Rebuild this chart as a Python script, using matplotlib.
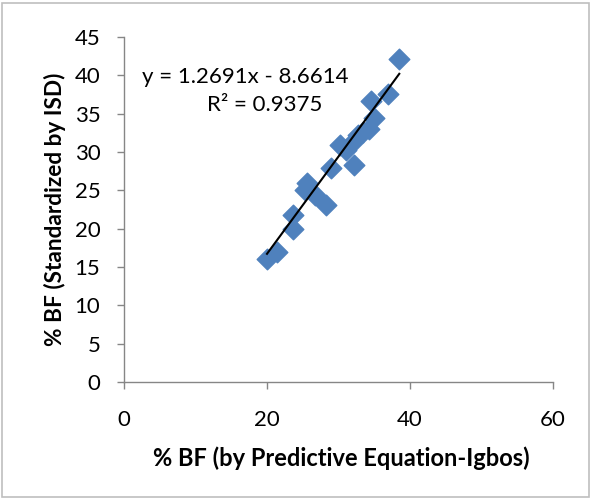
import matplotlib
matplotlib.use("Agg")
import matplotlib.pyplot as plt
import numpy as np
from matplotlib.patches import Rectangle

x_vals = [38.5, 36.9, 34.5, 34.9, 34.2, 32.7, 33.4, 32.0, 30.2, 31.1, 32.1, 28.9,
          25.6, 25.3, 26.7, 28.3, 23.6, 23.6, 21.4, 20.0]
y_vals = [42.1, 37.6, 36.6, 34.4, 33.0, 32.2, 32.6, 31.3, 30.9, 30.3, 28.3, 27.9,
          25.9, 25.0, 24.4, 23.1, 21.8, 20.0, 17.0, 16.1]
slope, intercept = 1.2691, -8.6614
x_ticks = [0, 20, 40, 60]
y_ticks = [0, 5, 10, 15, 20, 25, 30, 35, 40, 45]

plt.rcParams['font.family'] = ['Lato', 'DejaVu Sans']

fig = plt.figure(figsize=(5.91, 4.99), dpi=100)
fig.patches.append(Rectangle((0.004, 0.004), 0.992, 0.99, transform=fig.transFigure,
                             fill=False, edgecolor='#bfbfbf', linewidth=1.2))
ax = fig.add_axes([124/591, 1-382/499, (553-124)/591, (382-37)/499])

ax.scatter(x_vals, y_vals, marker='D', s=110, color='#4f81bd', edgecolors='#4f81bd', zorder=3)
xl = np.array([min(x_vals), max(x_vals)])
ax.plot(xl, slope*xl + intercept, color='black', linewidth=1.5, zorder=4)

ax.set_xlim(0, 60)
ax.set_ylim(0, 45)
ax.set_xticks(x_ticks)
ax.set_yticks(y_ticks)
for s in ['top', 'right']:
    ax.spines[s].set_visible(False)
for s in ['left', 'bottom']:
    ax.spines[s].set_color('#868686')
    ax.spines[s].set_linewidth(1)
ax.tick_params(axis='both', colors='#868686', labelcolor='black', labelsize=16, length=5, width=1)
ax.yaxis.set_tick_params(pad=12)
ax.xaxis.set_tick_params(pad=15)

ax.set_xlabel('% BF (by Predictive Equation-Igbos)', fontsize=17, fontweight='bold')
ax.set_ylabel('% BF (Standardized by ISD)', fontsize=16.3, fontweight='bold')
ax.xaxis.set_label_coords(0.506, -0.22)
ax.yaxis.set_label_coords(-0.162, 0.5)
ax.xaxis.label.set_va('center')
ax.yaxis.label.set_va('center')

ax.text(16.9, 39.8, 'y = 1.2691x - 8.6614', fontsize=16, ha='center', va='center')
ax.text(19.7, 36.1, 'R² = 0.9375', fontsize=16, ha='center', va='center')

fig.savefig('out.png', dpi=100)
